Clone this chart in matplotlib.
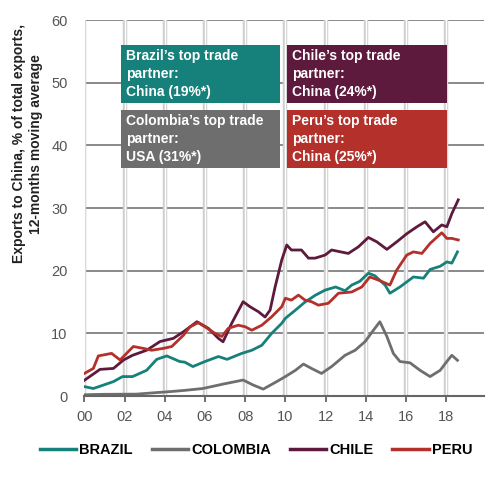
import numpy as np
import matplotlib
matplotlib.use("Agg")
import matplotlib.pyplot as plt
from matplotlib.patches import Rectangle

plt.rcParams['font.family'] = ['Liberation Sans', 'DejaVu Sans']

# years since 2000 and % of exports going to China (12m moving average)
brazil_t = [0.0, 0.45, 1.0, 1.45, 1.9, 2.4, 3.1, 3.6, 4.1, 4.75, 5.0, 5.4, 6.0, 6.67, 7.1, 7.83,
            8.33, 8.83, 9.32, 9.82, 10.0, 10.5, 10.98, 11.5, 11.98, 12.5, 12.97, 13.3, 13.7, 14.13,
            14.45, 14.96, 15.2, 15.7, 16.37, 16.87, 17.2, 17.7, 18.03, 18.28, 18.56]
brazil_v = [1.5, 1.2, 1.8, 2.3, 3.1, 3.1, 4.1, 5.85, 6.4, 5.5, 5.4, 4.7, 5.5, 6.3, 5.85, 6.8,
            7.3, 8.1, 10.0, 11.6, 12.4, 13.7, 15.0, 16.1, 16.9, 17.4, 16.8, 17.7, 18.3, 19.6,
            19.2, 17.7, 16.4, 17.4, 19.0, 18.8, 20.2, 20.7, 21.4, 21.2, 23.0]

colombia_t = [0.0, 0.95, 2.6, 3.4, 4.26, 5.0, 5.9, 6.9, 7.9, 8.4, 8.9, 9.57, 10.0, 10.5, 10.9,
              11.3, 11.8, 12.3, 12.97, 13.47, 13.97, 14.38, 14.7, 15.05, 15.37, 15.7, 16.2,
              16.7, 17.2, 17.7, 18.03, 18.28, 18.56]
colombia_v = [0.2, 0.27, 0.3, 0.5, 0.7, 0.9, 1.2, 1.9, 2.55, 1.75, 1.1, 2.3, 3.1, 4.1, 5.1,
              4.4, 3.6, 4.7, 6.5, 7.3, 8.7, 10.5, 11.85, 9.5, 6.8, 5.5, 5.3,
              4.1, 3.1, 4.1, 5.5, 6.5, 5.7]

chile_t = [0.0, 0.78, 1.45, 1.95, 2.4, 3.1, 3.77, 4.43, 4.93, 5.6, 6.17, 6.67, 6.9, 7.33, 7.9,
           8.24, 8.66, 8.99, 9.24, 9.49, 9.82, 10.07, 10.3, 10.8, 11.15, 11.48, 11.98, 12.3,
           13.13, 13.63, 14.13, 14.55, 15.05, 15.54, 16.04, 16.54, 16.95, 17.36, 17.78, 18.03,
           18.28, 18.6]
chile_v = [2.5, 4.25, 4.4, 5.75, 6.5, 7.3, 8.7, 9.2, 10.25, 11.85, 10.8, 9.2, 8.65, 11.6, 15.05,
           14.25, 13.45, 12.6, 13.7, 17.4, 21.7, 24.1, 23.3, 23.3, 22.0, 22.0, 22.5, 23.3,
           22.75, 23.8, 25.3, 24.6, 23.4, 24.6, 25.9, 27.0, 27.8, 26.2, 27.3, 27.0,
           29.1, 31.3]

peru_t = [0.0, 0.45, 0.7, 1.36, 1.78, 2.44, 2.94, 3.35, 3.93, 4.35, 4.93, 5.26, 5.67, 6.0, 6.5,
          6.84, 7.16, 7.66, 8.0, 8.33, 8.83, 9.32, 9.82, 10.0, 10.3, 10.65, 10.98, 11.3, 11.64,
          12.14, 12.64, 13.3, 13.8, 14.2, 14.63, 15.2, 15.54, 16.04, 16.37, 16.79, 17.2, 17.78,
          18.03, 18.28, 18.6]
peru_v = [3.6, 4.4, 6.4, 6.8, 5.75, 7.9, 7.6, 7.3, 7.6, 7.9, 9.7, 11.05, 11.7, 11.05, 10.0,
          9.5, 10.8, 11.3, 11.05, 10.5, 11.3, 12.65, 14.25, 15.6, 15.3, 16.1, 15.3, 15.05, 14.5,
          14.8, 16.4, 16.6, 17.4, 19.0, 18.5, 17.7, 20.1, 22.5, 23.0, 22.75, 24.35, 26.05,
          25.15, 25.15, 24.9]

year_ticks = [0, 2, 4, 6, 8, 10, 12, 14, 16, 18]
year_labels = ['00', '02', '04', '06', '08', '10', '12', '14', '16', '18']
y_ticks = [0, 10, 20, 30, 40, 50, 60]

partners = ["Brazil\u2019s top trade\npartner:\nChina (19%*)",
            "Colombia\u2019s top trade\npartner:\nUSA (31%*)",
            "Chile\u2019s top trade\npartner:\nChina (24%*)",
            "Peru\u2019s top trade\npartner:\nChina (25%*)"]

teal = '#16807a'
grey = '#6e6e6e'
plum = '#5e1a3d'
red = '#b3302b'

fig = plt.figure(figsize=(5, 4.88), dpi=100)
ax = fig.add_axes([0.1686, 0.1885, 0.7994, 0.7705])

ax.set_xlim(0, 19.88)
ax.set_ylim(0, 60)

# horizontal grid, dark
for yv in y_ticks[1:]:
    ax.axhline(yv, color='#808080', lw=1.3, zorder=1)
# vertical grid, light double line
for xv in year_ticks:
    ax.axvline(xv, color='#cfcfcf', lw=3.2, zorder=2)
    ax.axvline(xv, color='white', lw=1.0, zorder=2.1)

ax.plot(brazil_t, brazil_v, color=teal, lw=2, label='BRAZIL', zorder=5)
ax.plot(colombia_t, colombia_v, color=grey, lw=2, label='COLOMBIA', zorder=4)
ax.plot(chile_t, chile_v, color=plum, lw=2, label='CHILE', zorder=5)
ax.plot(peru_t, peru_v, color=red, lw=2, label='PERU', zorder=6)

for s in ['left', 'right', 'top']:
    ax.spines[s].set_visible(False)
ax.spines['bottom'].set_color('#666666')
ax.spines['bottom'].set_linewidth(1.5)
ax.spines['bottom'].set_zorder(7)

ax.set_xticks(year_ticks)
ax.set_xticklabels(year_labels)
ax.set_yticks(y_ticks)
ax.tick_params(axis='x', colors='#555555', length=4, width=1.2, labelsize=10.5, pad=6)
ax.tick_params(axis='y', length=0, colors='#555555', labelsize=10.5, pad=12)

# annotation boxes (axes fraction)
boxes = [(0.092, 0.779, 0.397, 0.155, teal),
         (0.092, 0.606, 0.397, 0.155, grey),
         (0.507, 0.779, 0.400, 0.155, plum),
         (0.507, 0.606, 0.400, 0.155, red)]
for txt, (bx, by, bw, bh, col) in zip(partners, boxes):
    ax.add_patch(Rectangle((bx, by), bw, bh, transform=ax.transAxes,
                           facecolor=col, edgecolor='none', zorder=8))
    ax.text(bx + 0.013, by + bh / 2, txt, transform=ax.transAxes, color='white',
            fontsize=10, fontweight='bold', va='center', ha='left',
            linespacing=1.38, zorder=9)

fig.text(0.055, 0.705, "Exports to China, % of total exports,\n12-months moving average",
         rotation=90, ha='center', va='center', multialignment='center',
         fontsize=10, fontweight='bold', color='#222222')

leg = fig.legend(loc='center', bbox_to_anchor=(0.512, 0.078), ncol=4, frameon=False,
                 handlelength=2.5, handletextpad=0.2, columnspacing=1.3,
                 prop={'weight': 'bold', 'size': 10.5})
for line in leg.get_lines():
    line.set_linewidth(2.5)

fig.savefig('out.png', dpi=100)
